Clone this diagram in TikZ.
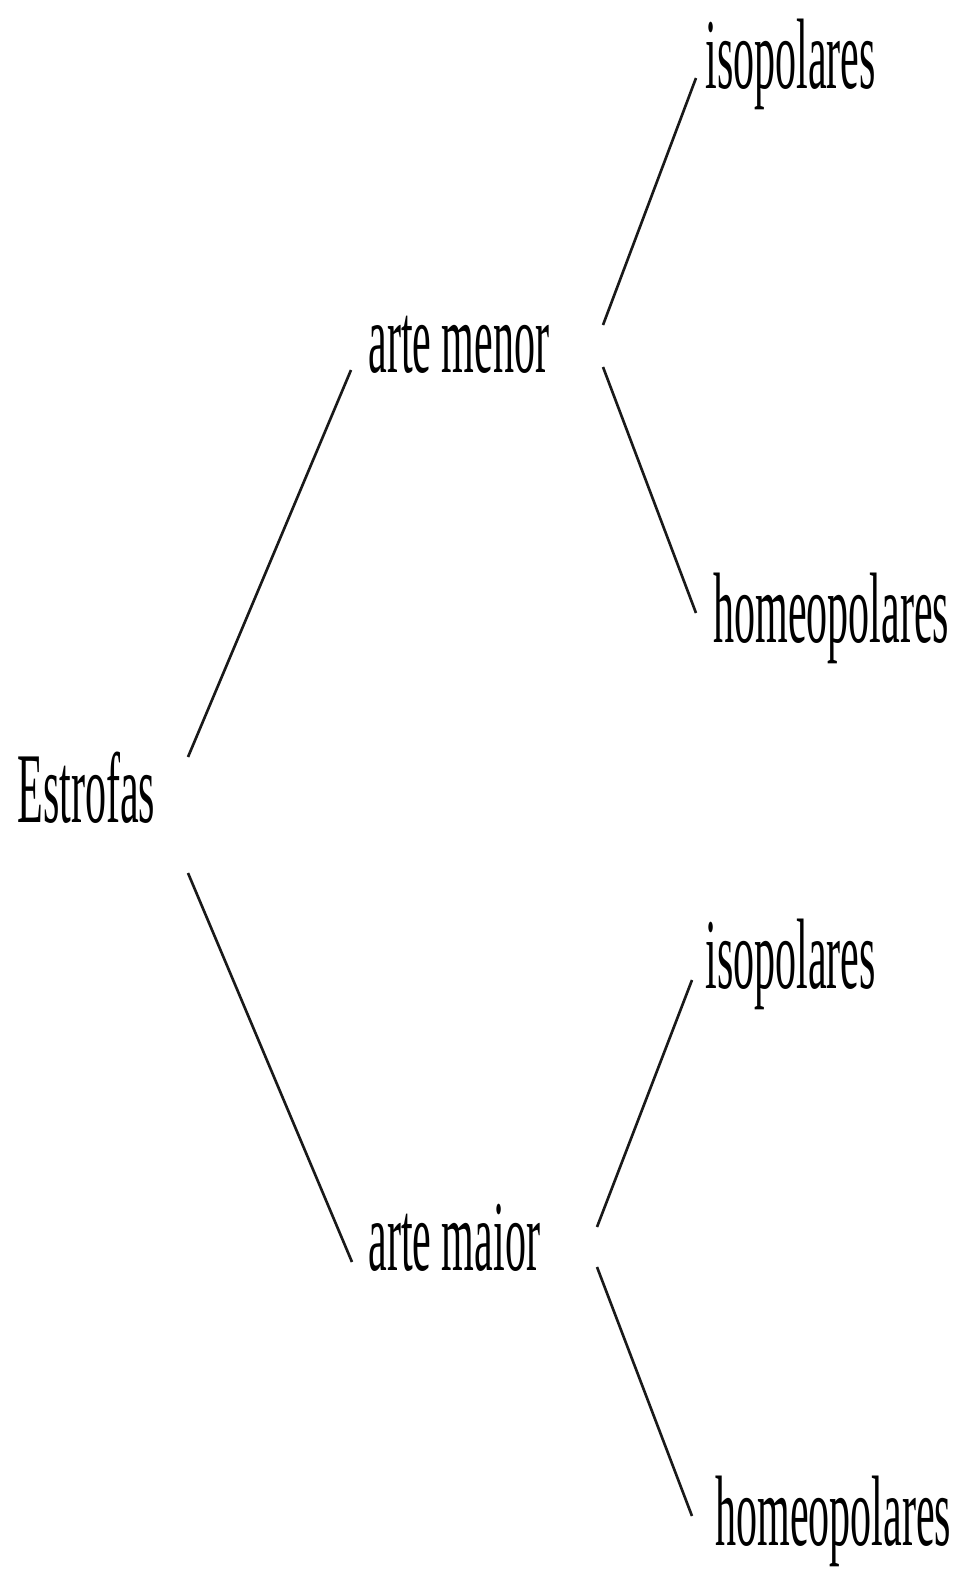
\documentclass[tikz,border=0pt]{standalone}
\usepackage{fontspec}
\setmainfont{Liberation Serif}[FakeStretch=0.42]

\begin{document}
\begin{tikzpicture}[x=0.02cm,y=-0.02cm,
    every node/.style={inner sep=0pt,anchor=base west,font=\fontsize{57}{60}\selectfont},
    branch/.style={line width=1.5pt,black!90}]
  \useasboundingbox (0,0) rectangle (961,1570);
  % labels
  \node (estrofas) at (17,822) {Estrofas};
  \node (menor) at (368,372) {arte menor};
  \node (maior) at (368,1270) {arte maior};
  \node (isoA) at (705,88) {isopolares};
  \node (homeoA) at (713,642) {homeopolares};
  \node (isoB) at (705,988) {isopolares};
  \node (homeoB) at (715,1545) {homeopolares};
  %
  \draw[branch] ([shift={(171,-65)}]estrofas.base west) -- ([shift={(-17,-2)}]menor.base west);
  \draw[branch] ([shift={(171,51)}]estrofas.base west) -- ([shift={(-16,-8)}]maior.base west);
  %
  \draw[branch] ([shift={(235,-47)}]menor.base west) -- ([shift={(-9,-10)}]isoA.base west);
  \draw[branch] ([shift={(235,-5)}]menor.base west) -- ([shift={(-17,-29)}]homeoA.base west);
  \draw[branch] ([shift={(229,-43)}]maior.base west) -- ([shift={(-13,-8)}]isoB.base west);
  \draw[branch] ([shift={(229,-3)}]maior.base west) -- ([shift={(-23,-29)}]homeoB.base west);
\end{tikzpicture}
\end{document}
